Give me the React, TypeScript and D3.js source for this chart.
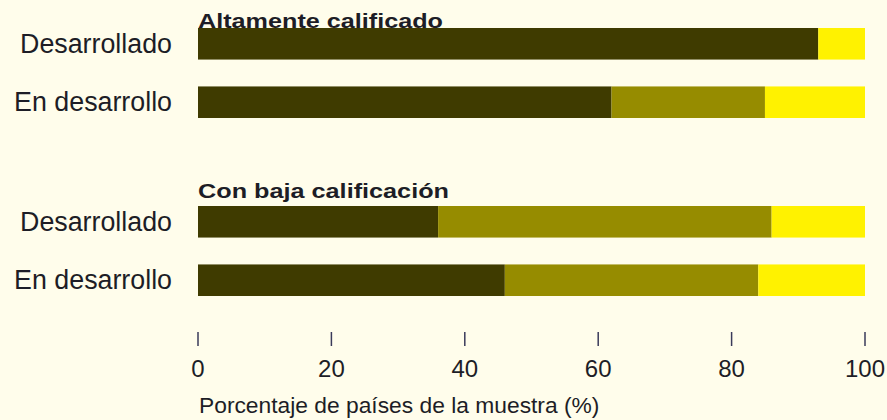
import * as d3 from "d3";

const groups = ["Altamente calificado", "Con baja calificación"];
const categories = ["Desarrollado", "En desarrollo"];
// share of sample countries (%), one value per group x category row
const shareDark = [93, 62, 36, 46];
const shareMid = [0, 23, 50, 38];
const shareLight = [7, 15, 14, 16];
const xTicks = [0, 20, 40, 60, 80, 100];
const axisTitle = "Porcentaje de países de la muestra (%)";

const W = 887;
const H = 420;
const keys = ["dark", "mid", "light"];
const colors: Record<string, string> = {
  dark: "#3f3b00",
  mid: "#968c00",
  light: "#fff200",
};
const ink = "#1d1d26";
const font = "'Liberation Sans', Arial, sans-serif";

export default function App() {
  const rows = groups.flatMap((g, gi) =>
    categories.map((c, ci) => {
      const i = gi * categories.length + ci;
      return {
        id: g + "|" + c,
        group: g,
        category: c,
        dark: shareDark[i],
        mid: shareMid[i],
        light: shareLight[i],
      };
    })
  );

  const x = d3.scaleLinear().domain([0, 100]).range([198, 865]);
  const yGroup = d3.scaleBand().domain(groups).range([28, 384]);
  const yRow = d3
    .scaleBand()
    .domain(categories)
    .range([0, 90])
    .paddingInner(0.46);

  const series = d3.stack<any>().keys(keys)(rows);
  const rowY = (d: any) => (yGroup(d.group) ?? 0) + (yRow(d.category) ?? 0);
  const bh = yRow.bandwidth();

  // group 1 title sits right on its bar, group 2 title a bit higher
  const titleShift = [0, -8];

  return (
    <svg
      width={W}
      height={H}
      style={{ position: "absolute", left: 0, top: 0, display: "block" }}
      fontFamily={font}
    >
      <rect width={W} height={H} fill="#fffdeb" />

      {series.map((s) => (
        <g key={s.key} fill={colors[s.key]}>
          {s.map((d: any) =>
            d[1] - d[0] > 0 ? (
              <rect
                key={d.data.id}
                x={x(d[0])}
                y={rowY(d.data)}
                width={x(d[1]) - x(d[0])}
                height={bh}
              />
            ) : null
          )}
        </g>
      ))}

      {groups.map((g, gi) => (
        <text
          key={g}
          x={x(0)}
          y={(yGroup(g) ?? 0) + titleShift[gi]}
          fontSize={21}
          fontWeight="bold"
          fill={ink}
          textLength={gi === 0 ? 245 : 251}
          lengthAdjust="spacingAndGlyphs"
        >
          {g}
        </text>
      ))}

      {rows.map((d) => (
        <text
          key={d.id}
          x={172}
          y={rowY(d) + bh / 2 + 9}
          textAnchor="end"
          fontSize={26.8}
          fill={ink}
        >
          {d.category}
        </text>
      ))}

      {xTicks.map((t) => (
        <g key={t} transform={`translate(${x(t)},0)`}>
          <line y1={332} y2={346} stroke="#3a3a5a" strokeWidth={1.5} />
          <text y={377} textAnchor="middle" fontSize={24} fill={ink}>
            {t}
          </text>
        </g>
      ))}

      <text x={x(0) + 1} y={413} fontSize={22.8} fill={ink}>
        {axisTitle}
      </text>
    </svg>
  );
}
